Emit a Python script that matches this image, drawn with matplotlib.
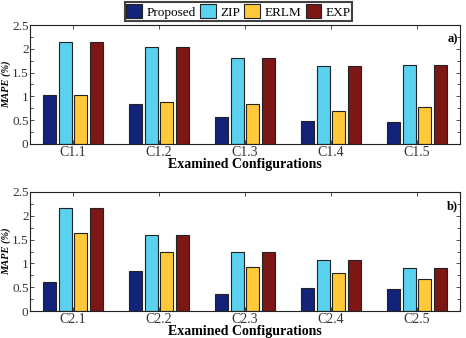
import matplotlib
matplotlib.use("Agg")
import matplotlib.pyplot as plt
import numpy as np
from matplotlib.ticker import MultipleLocator

plt.rcParams['font.family'] = ['Liberation Serif', 'DejaVu Serif']

series = ["Proposed", "ZIP", "ERLM", "EXP"]
colors = ["#13237a", "#5ad1ef", "#ffc93a", "#7d1716"]

cats_a = ["C1.1", "C1.2", "C1.3", "C1.4", "C1.5"]
proposed_a = [1.02, 0.83, 0.56, 0.49, 0.46]
zip_a = [2.15, 2.03, 1.81, 1.64, 1.66]
erlm_a = [1.02, 0.89, 0.84, 0.69, 0.77]
exp_a = [2.15, 2.03, 1.81, 1.64, 1.66]

cats_b = ["C2.1", "C2.2", "C2.3", "C2.4", "C2.5"]
proposed_b = [0.61, 0.83, 0.35, 0.48, 0.47]
zip_b = [2.17, 1.59, 1.23, 1.08, 0.91]
erlm_b = [1.63, 1.25, 0.93, 0.80, 0.67]
exp_b = [2.17, 1.59, 1.23, 1.08, 0.91]

W, H = 466, 338
fig = plt.figure(figsize=(W / 100, H / 100), dpi=100)

def ax_rect(l, t, r, b):
    return [l / W, 1 - b / H, (r - l) / W, (b - t) / H]

panels = [
    (ax_rect(30, 25, 460, 144), cats_a, [proposed_a, zip_a, erlm_a, exp_a], "a)"),
    (ax_rect(30, 192, 460, 311), cats_b, [proposed_b, zip_b, erlm_b, exp_b], "b)"),
]

offsets = [-0.275, -0.092, 0.092, 0.275]
bw = 0.15
fs = 10
handles = None
for rect, cats, data, lab in panels:
    ax = fig.add_axes(rect)
    x = np.arange(1, len(cats) + 1)
    hs = []
    for vals, off, c, name in zip(data, offsets, colors, series):
        h = ax.bar(x + off, vals, width=bw, color=c, edgecolor="#222222",
                   linewidth=0.8, label=name)
        hs.append(h)
    handles = hs
    ax.set_xlim(0.5, 5.5)
    ax.set_ylim(0, 2.5)
    ax.set_xticks(x)
    ax.set_xticklabels(cats, fontsize=fs)
    ax.set_yticks([0, 0.5, 1, 1.5, 2, 2.5])
    ax.set_yticklabels(["0", "0.5", "1", "1.5", "2", "2.5"], fontsize=9.5)
    ax.yaxis.set_minor_locator(MultipleLocator(0.25))
    ax.tick_params(direction="in", top=True, right=True, length=3, width=0.6,
                   pad=1.5, colors="#333333", labelcolor="#333333")
    ax.tick_params(axis="y", pad=1)
    ax.tick_params(which="minor", direction="in", right=True, length=2, width=0.5)
    for s in ax.spines.values():
        s.set_linewidth(0.8)
        s.set_color("#222222")
    ax.set_xlabel("Examined Configurations", fontsize=fs, fontweight="bold",
                  labelpad=-1)
    ax.text(-0.056, 0.5, "MAPE (%)", fontsize=7.5, fontweight="bold",
            fontstyle="italic", rotation=90, ha="center", va="center",
            rotation_mode="anchor", transform=ax.transAxes)
    ax.text(0.995, 0.93, lab, transform=ax.transAxes, ha="right", va="top",
            fontsize=9, fontweight="bold")

leg = fig.legend(handles=handles, labels=series, loc="center",
                 bbox_to_anchor=(238.5 / W, 1 - 11.5 / H), ncol=4, fontsize=9.5,
                 frameon=True, fancybox=False, edgecolor="#111111",
                 handlelength=1.2, handleheight=1.2, handletextpad=0.3,
                 columnspacing=0.35, borderpad=0.15, borderaxespad=0)
leg.get_frame().set_linewidth(1.5)

fig.savefig("out.png", dpi=100)
